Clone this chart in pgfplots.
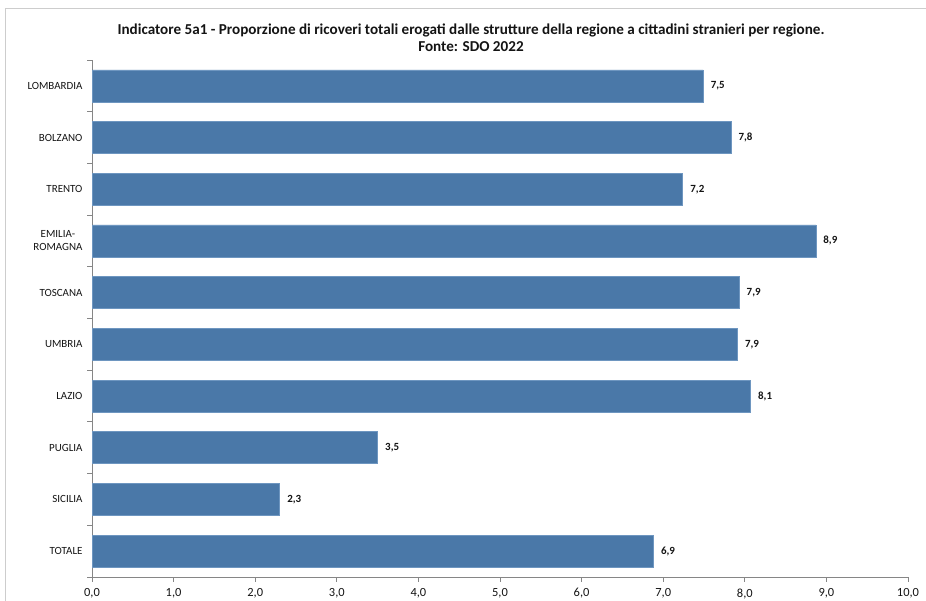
\documentclass[border=0pt]{standalone}
\usepackage{pgfplots}
\pgfplotsset{compat=1.18}
\usepackage{fontspec}
\setmainfont{Carlito}
\definecolor{barblue}{RGB}{74,120,168}
\definecolor{baredge}{RGB}{110,150,192}
\definecolor{axisgray}{RGB}{134,134,134}
\definecolor{framegray}{RGB}{205,205,205}
\definecolor{txt}{RGB}{20,20,20}
\begin{document}
\begin{tikzpicture}[x=1bp,y=1bp]
\path[use as bounding box] (0,0) rectangle (926,601);
\draw[framegray, line width=1bp] (5,0) -- (5,592) -- (926,592);
\node[align=center, text=txt, font=\bfseries\fontsize{15.2}{17}\selectfont] at (471,563.5)
  {Indicatore 5a1 - Proporzione di ricoveri totali erogati dalle strutture della regione a cittadini stranieri per regione.\\Fonte: SDO 2022};
\begin{axis}[
  at={(92bp,24bp)}, anchor=south west,
  scale only axis, width=816bp, height=517bp,
  xbar, bar width=32bp,
  xmin=0, xmax=10, ymin=-0.5, ymax=9.5,
  axis x line*=bottom, axis y line*=left,
  axis line style={axisgray, line width=0.8bp},
  tick style={axisgray, line width=0.8bp},
  tick align=outside,
  major tick length=5bp, minor tick length=5bp,
  every major y tick/.style={draw=none},
  xtick={0,1,...,10},
  ytick={0,1,...,9},
  minor ytick={-0.5,0.5,...,9.5},
  yticklabels={TOTALE,SICILIA,PUGLIA,LAZIO,UMBRIA,TOSCANA,{EMILIA-\\ROMAGNA},TRENTO,BOLZANO,LOMBARDIA},
  yticklabel style={align=center, text=txt, font=\fontsize{11}{13}\selectfont, xshift=-1bp},
  xticklabel style={text=txt, font=\fontsize{12.5}{14}\selectfont, yshift=-3bp,
    /pgf/number format/.cd, fixed, fixed zerofill, precision=1, use comma, assume math mode=true},
  nodes near coords={\pgfmathprintnumber[fixed,fixed zerofill,precision=1,use comma,assume math mode=true]{\pgfplotspointmeta}},
  every node near coord/.append style={anchor=west, xshift=4bp, text=txt, font=\bfseries\fontsize{11}{13}\selectfont},
]
\addplot[fill=barblue, draw=baredge, line width=0.6bp] coordinates {
  (6.88,0) (2.30,1) (3.50,2) (8.07,3) (7.91,4) (7.93,5) (8.87,6) (7.24,7) (7.83,8) (7.49,9)
};
\end{axis}
\end{tikzpicture}
\end{document}
